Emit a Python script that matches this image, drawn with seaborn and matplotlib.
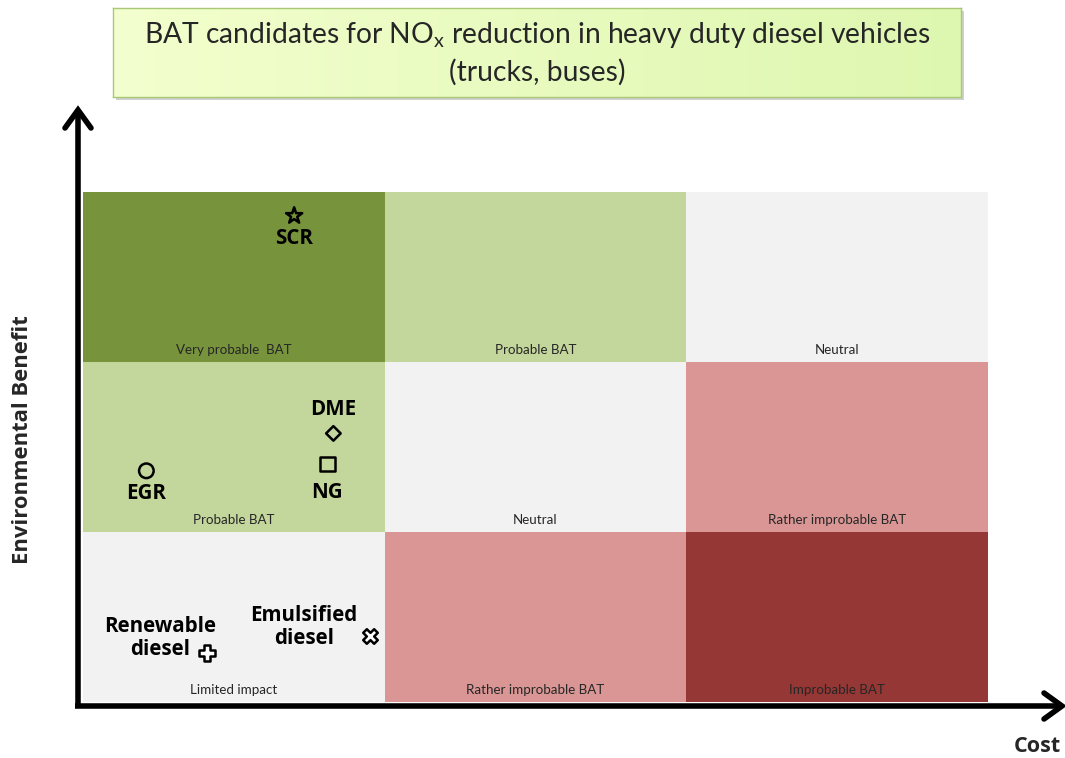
import numpy as np
import matplotlib
matplotlib.use("Agg")
import matplotlib.pyplot as plt
from matplotlib.colors import ListedColormap, LinearSegmentedColormap
import seaborn as sns

sns.set_theme(style="white")
plt.rcParams['font.family'] = ['Lato', 'DejaVu Sans']
plt.rcParams['mathtext.default'] = 'regular'
BOLD_FAMILY = ['Open Sans', 'DejaVu Sans']

# ---- data ----
cost_levels = ["Low", "Medium", "High"]
benefit_levels = ["High", "Medium", "Low"]          # rows top -> bottom
cell_codes = [[0, 1, 2],
              [1, 2, 3],
              [2, 3, 4]]
cell_labels = [["Very probable  BAT", "Probable BAT", "Neutral"],
               ["Probable BAT", "Neutral", "Rather improbable BAT"],
               ["Limited impact", "Rather improbable BAT", "Improbable BAT"]]
cell_colors = ["#77933C", "#C3D69B", "#F2F2F2", "#D99694", "#953735"]

techniques = ["SCR", "DME", "NG", "EGR", "Renewable\ndiesel", "Emulsified\ndiesel"]
tech_cost = [0.70, 0.83, 0.81, 0.21, 0.41, 0.95]      # 0..3 scale
tech_benefit = [2.86, 1.58, 1.40, 1.36, 0.29, 0.39]   # 0..3 scale
tech_markers = ["*", "D", "s", "o", "P", "X"]

title = "BAT candidates for NO$_x$ reduction in heavy duty diesel vehicles\n(trucks, buses)"
xlabel = "Cost"
ylabel = "Environmental Benefit"

W, H = 1065, 758
fig = plt.figure(figsize=(W / 100, H / 100), dpi=100)
fig.patch.set_facecolor("white")

def fx(px):
    return px / W

def fy(py):
    return 1 - py / H

ax = fig.add_axes([fx(83), fy(702), fx(988) - fx(83), fy(192) - fy(702)])
sns.heatmap(np.array(cell_codes), cmap=ListedColormap(cell_colors), vmin=-0.5, vmax=4.5,
            cbar=False, xticklabels=False, yticklabels=False, ax=ax, linewidths=0)
ax.set_xlabel("")
ax.set_ylabel("")

# cell labels at bottom of each cell
for r in range(3):
    for c in range(3):
        ax.text(c + 0.5, r + 0.93, cell_labels[r][c], ha="center", va="center",
                fontsize=9.6, color="#262626")

# technique markers
marker_sizes = {"*": 150, "D": 55, "s": 110, "o": 110, "P": 120, "X": 110}
for name, cx, by, m in zip(techniques, tech_cost, tech_benefit, tech_markers):
    yy = 3 - by
    face = "none" if m in ("*", "D", "s", "o") else "white"
    ax.scatter([cx], [yy], marker=m, s=marker_sizes[m], facecolors=face,
               edgecolors="black", linewidths=1.8, zorder=5, clip_on=False)

lbl_kw = dict(fontsize=14.8, fontweight="bold", color="black", linespacing=1.15,
              family=BOLD_FAMILY)
offsets = {
    "SCR": (0.0, 0.135, "center", "center"),
    "DME": (0.0, -0.14, "center", "center"),
    "NG": (0.0, 0.17, "center", "center"),
    "EGR": (0.0, 0.135, "center", "center"),
    "Renewable\ndiesel": (-0.155, -0.085, "center", "center"),
    "Emulsified\ndiesel": (-0.217, -0.05, "center", "center"),
}
for name, cx, by in zip(techniques, tech_cost, tech_benefit):
    dx, dy, ha, va = offsets[name]
    ax.text(cx + dx, 3 - by + dy, name, ha=ha, va=va, multialignment="center", **lbl_kw)

# axis arrows
fig_ax = fig.add_axes([0, 0, 1, 1], zorder=-1)
fig_ax.set_xlim(0, W)
fig_ax.set_ylim(H, 0)
fig_ax.axis("off")
fig_ax.plot([78, 78], [708, 112], color="black", lw=4, solid_capstyle="butt")
fig_ax.plot([65, 78, 91], [128, 110, 128], color="black", lw=4, solid_capstyle="round",
            solid_joinstyle="miter")
fig_ax.plot([75, 1060], [706, 706], color="black", lw=4, solid_capstyle="butt")
fig_ax.plot([1044, 1062, 1044], [693, 706, 719], color="black", lw=4, solid_capstyle="round",
            solid_joinstyle="miter")

fig.text(fx(23), fy(440), ylabel, rotation=90, ha="center", va="center",
         fontsize=15.8, fontweight="bold", family=BOLD_FAMILY)
fig.text(fx(1037), fy(747), xlabel, ha="center", va="center",
         fontsize=15.5, fontweight="bold", family=BOLD_FAMILY)

# title box with gradient
shadow = fig.add_axes([fx(116), fy(100), fx(964) - fx(116), fy(11) - fy(100)], zorder=1)
shadow.set_facecolor("#d0d0d0")
shadow.set_xticks([]); shadow.set_yticks([])
for s in shadow.spines.values():
    s.set_visible(False)
tax = fig.add_axes([fx(113), fy(97), fx(961) - fx(113), fy(8) - fy(97)], zorder=2)
grad = LinearSegmentedColormap.from_list("g", ["#F3FFCE", "#DEF7B0"])
tax.imshow(np.linspace(0, 1, 256)[None, :], cmap=grad, aspect="auto", extent=[0, 1, 0, 1])
tax.set_xlim(0, 1); tax.set_ylim(0, 1)
tax.set_xticks([]); tax.set_yticks([])
for s in tax.spines.values():
    s.set_color("#A8C878")
    s.set_linewidth(1)
tax.text(0.5, 0.5, title, ha="center", va="center", fontsize=20.3, linespacing=1.4,
         transform=tax.transAxes)

fig.savefig("out.png", dpi=100, facecolor="white")
